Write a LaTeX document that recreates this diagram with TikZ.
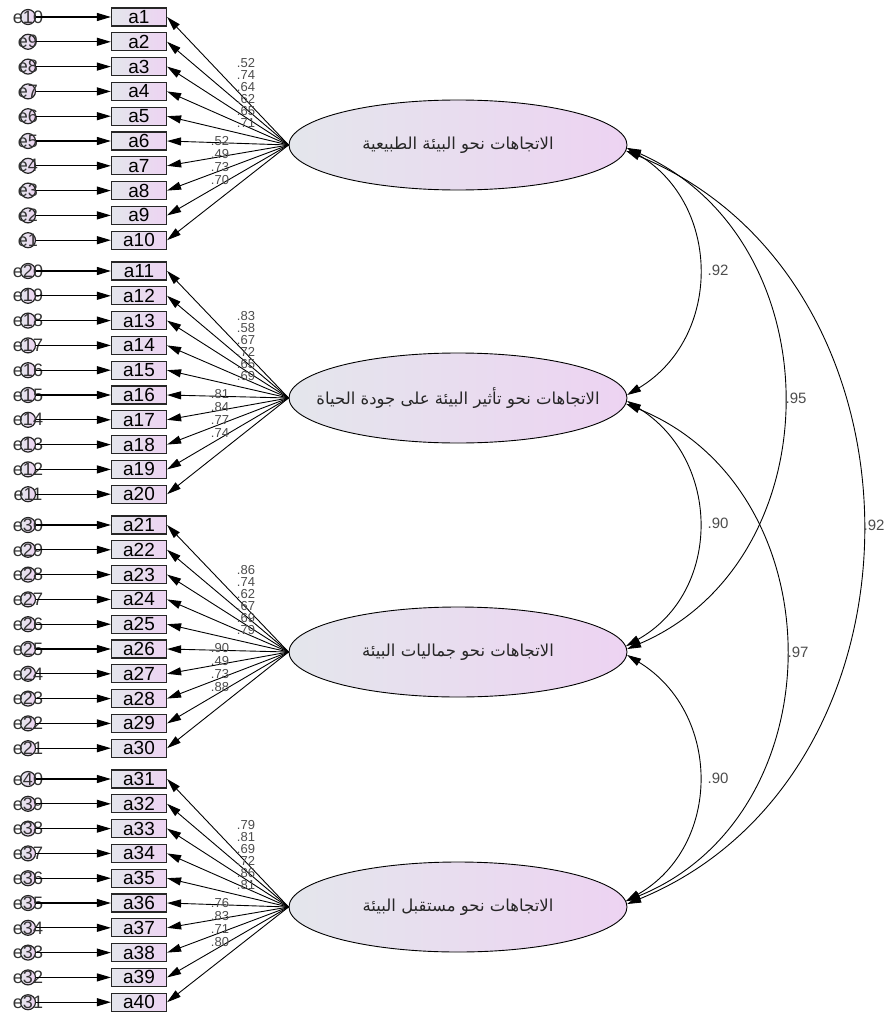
\documentclass[tikz,border=0pt]{standalone}
\usepackage{fontspec}
\setmainfont{Liberation Sans}
\newfontfamily\arabicfont[Script=Arabic]{DejaVu Sans}
\TeXXeTstate=1
\usepackage{tikz}
\usetikzlibrary{arrows.meta}
\usetikzlibrary{positioning}
\usetikzlibrary{shapes.geometric}
\definecolor{amosgrey}{HTML}{E4E6EC}
\definecolor{amosviolet}{HTML}{EDD3F2}

\begin{document}
\begin{tikzpicture}[x=1pt,y=-1pt,
    obs/.style={draw=black!85, line width=1.2pt, minimum width=55pt, minimum height=18pt,
      inner sep=0pt, left color=amosgrey, right color=amosviolet,
      font=\fontsize{19}{19}\selectfont},
    err/.style={circle, draw=black!85, line width=1.2pt, minimum size=15pt, inner sep=0pt,
      left color=amosgrey, right color=amosviolet},
    errtxt/.style={inner sep=0pt, text=black!80, font=\fontsize{18}{18}\selectfont},
    latent/.style={ellipse, draw, line width=0.9pt, minimum width=338pt, minimum height=90pt,
      left color=amosgrey, right color=amosviolet},
    factxt/.style={inner sep=0pt, text=black!85, font=\fontsize{16.5}{16.5}\arabicfont},
    load/.style={line width=0.9pt, -{Triangle[length=14pt,width=8pt]}},
    cov/.style={line width=0.9pt, {Triangle[length=14pt,width=8pt]}-{Triangle[length=14pt,width=8pt]}},
    coef/.style={inner sep=0pt, text=black!70, font=\fontsize{13}{13}\selectfont},
    corr/.style={inner sep=0pt, text=black!70, font=\fontsize{15}{15}\selectfont}]
  \useasboundingbox (0,0) rectangle (887,1019);

  % indicators and their errors
  \foreach \g in {0,1,2,3}{
    \foreach \k in {1,...,10}{
      \pgfmathtruncatemacro{\n}{10*\g+\k}
      \pgfmathtruncatemacro{\m}{10*\g+11-\k}
      \node[obs] (a\n) at (139,{17+254*\g+24.8*(\k-1)}) {a\n};
      \node[err] (e\m) at (28,{17+254*\g+24.8*(\k-1)}) {};
      \node[errtxt] (te\m) at (e\m) {e\m};
      \draw[load, line width=1.1pt] (e\m) -- (a\n);
    }
  }

  % factors
  \node[latent] (f1) at (458,145) {};
  \node[latent] (f2) at (458,398) {};
  \node[latent] (f3) at (458,652) {};
  \node[latent] (f4) at (458,907) {};
  \node[factxt] (t1) at (f1) {\beginR الاتجاهات نحو البيئة الطبيعية\endR};
  \node[factxt] (t2) at (f2) {\beginR الاتجاهات نحو تأثير البيئة على جودة الحياة\endR};
  \node[factxt] (t3) at (f3) {\beginR الاتجاهات نحو جماليات البيئة\endR};
  \node[factxt] (t4) at (f4) {\beginR الاتجاهات نحو مستقبل البيئة\endR};

  % loadings
  \foreach \g/\fy/\upper/\lower in {1/145/{.52,.74,.64,.62,.65,.71}/{.52,.49,.73,.70},
      2/398/{.83,.58,.67,.72,.65,.69}/{.81,.84,.77,.74},
      3/652/{.86,.74,.62,.67,.69,.79}/{.90,.49,.73,.88},
      4/907/{.79,.81,.69,.72,.86,.81}/{.76,.83,.71,.80}}{
    \foreach \k in {1,...,10}{
      \pgfmathtruncatemacro{\n}{10*(\g-1)+\k}
      \draw[load] (f\g.west) -- (a\n.east);
    }
    \foreach \v [count=\j] in \upper
      \node[coef] (u\g\j) at (246,{\fy-82+12*(\j-1)}) {\v};
    \foreach \v [count=\j] in \lower
      \node[coef] (d\g\j) at (220,{\fy-4+13*(\j-1)}) {\v};
  }

  % correlations
  \draw[cov] (f1.-1) .. controls (722,205) and (722,338) .. (f2.1.5);
  \draw[cov] (f1.-1.5) .. controls (835,240) and (835,560) .. (f3.1.5);
  \draw[cov] (f1.-2) .. controls (940,280) and (940,775) .. (f4.1.5);
  \draw[cov] (f2.-1.5) .. controls (722,460) and (722,592) .. (f3.2);
  \draw[cov] (f2.-2) .. controls (838,490) and (838,815) .. (f4.2);
  \draw[cov] (f3.-1.5) .. controls (722,713) and (722,846) .. (f4.2.5);
  \node[corr] (r12) at (718,270) {.92};
  \node[corr] (r13) at (796,398) {.95};
  \node[corr] (r14) at (874,525) {.92};
  \node[corr] (r23) at (718,523) {.90};
  \node[corr] (r24) at (798,652) {.97};
  \node[corr] (r34) at (718,778) {.90};
\end{tikzpicture}
\end{document}
